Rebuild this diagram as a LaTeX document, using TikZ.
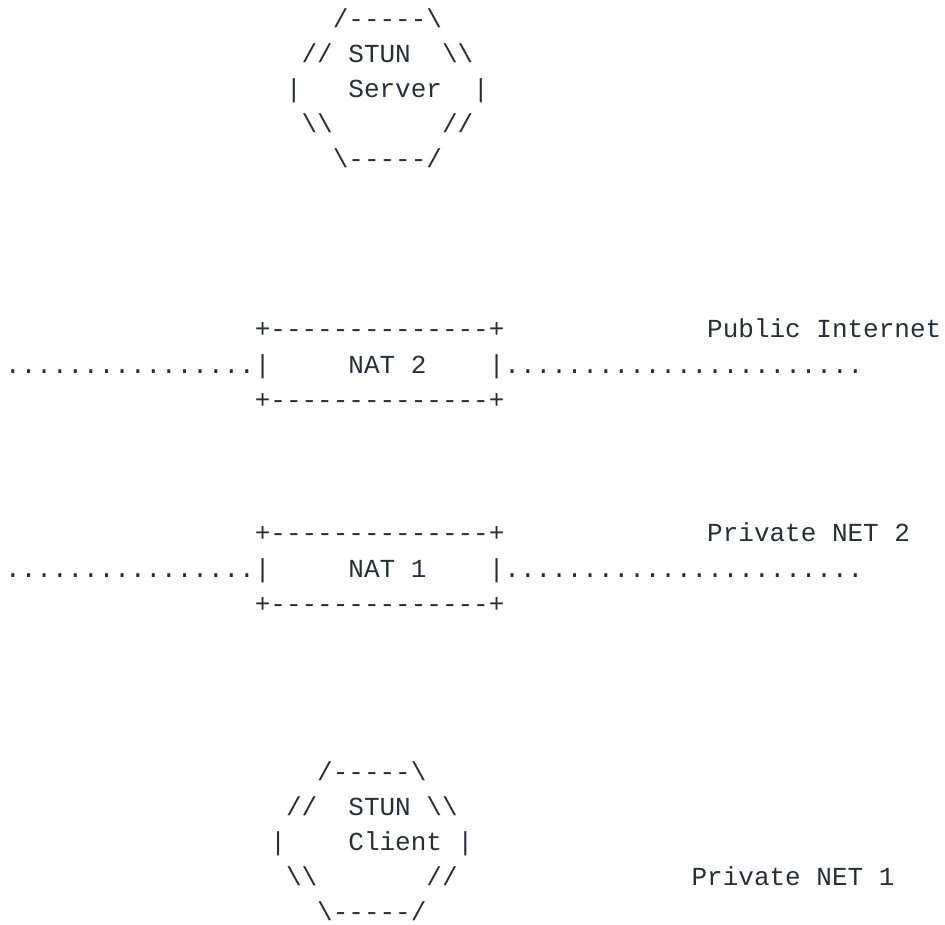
\documentclass[tikz,border=0pt]{standalone}
\usepackage{fontspec}
\usepackage{tikz}
\newfontfamily\asciifont{Liberation Mono}
\definecolor{ink}{HTML}{2B2E33}
\newcommand{\bs}{\textbackslash}
\newcommand{\cx}[1]{5.2+#1*15.6}

\begin{document}
\begin{tikzpicture}[x=1pt,y=-1pt]

  \tikzset{
    ascii/.style={anchor=base west,inner sep=0pt,outer sep=0pt,text=ink,
      font=\asciifont\fontsize{26}{30}\selectfont},
  }

  \useasboundingbox (0,0) rectangle (945,924);

  % STUN server
  \node[ascii] (srv0) at ({\cx{21}},27.5)  {/-----\bs};
  \node[ascii] (srv1) at ({\cx{19}},62.5)  {//~STUN~~\bs\bs};
  \node[ascii] (srv2) at ({\cx{18}},97.5)  {|~~~Server~~|};
  \node[ascii] (srv3) at ({\cx{19}},132.5) {\bs\bs~~~~~~~//};
  \node[ascii] (srv4) at ({\cx{21}},167.5) {\bs-----/};

  % NAT 2
  \node[ascii] (nat2top) at ({\cx{16}},337.5) {+--------------+};
  \node[ascii] (nat2)    at ({\cx{0}},373)    {................|~~~~~NAT~2~~~~|.......................};
  \node[ascii] (nat2bot) at ({\cx{16}},408.5) {+--------------+};
  \node[ascii] (public)  at ({\cx{45}},337.5) {Public~Internet};

  % NAT 1
  \node[ascii] (nat1top) at ({\cx{16}},541.5) {+--------------+};
  \node[ascii] (nat1)    at ({\cx{0}},577)    {................|~~~~~NAT~1~~~~|.......................};
  \node[ascii] (nat1bot) at ({\cx{16}},612.5) {+--------------+};
  \node[ascii] (priv2)   at ({\cx{45}},541.5) {Private~NET~2};

  % STUN client
  \node[ascii] (cli0) at ({\cx{20}},780) {/-----\bs};
  \node[ascii] (cli1) at ({\cx{18}},815) {//~~STUN~\bs\bs};
  \node[ascii] (cli2) at ({\cx{17}},850) {|~~~~Client~|};
  \node[ascii] (cli3) at ({\cx{18}},885) {\bs\bs~~~~~~~//};
  \node[ascii] (cli4) at ({\cx{20}},920) {\bs-----/};
  \node[ascii] (priv1) at ({\cx{44}},885) {Private~NET~1};

\end{tikzpicture}
\end{document}
